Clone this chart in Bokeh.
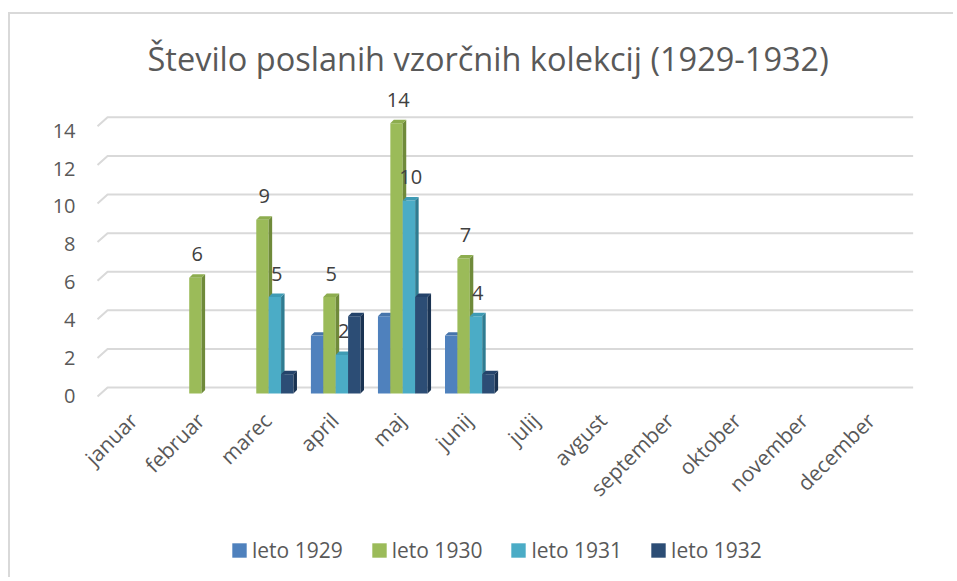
import math
from bokeh.plotting import figure
from bokeh.models import (ColumnDataSource, Range1d, LinearAxis, FixedTicker,
                          Legend, LegendItem)
from bokeh.embed import file_html
from bokeh.resources import INLINE
from bokeh.core.properties import value

# ---------------- data ----------------
title_text = "Število poslanih vzorčnih kolekcij (1929-1932)"
months = ["januar", "februar", "marec", "april", "maj", "junij", "julij",
          "avgust", "september", "oktober", "november", "december"]
series_names = ["leto 1929", "leto 1930", "leto 1931", "leto 1932"]
leto_1929 = [None, None, None, 3, 4, 3, None, None, None, None, None, None]
leto_1930 = [None, 6, 9, 5, 14, 7, None, None, None, None, None, None]
leto_1931 = [None, None, 5, 2, 10, 4, None, None, None, None, None, None]
leto_1932 = [None, None, 1, 4, 5, 1, None, None, None, None, None, None]
series_values = [leto_1929, leto_1930, leto_1931, leto_1932]
series_labelled = [False, True, True, False]
y_ticks = [0, 2, 4, 6, 8, 10, 12, 14]

# ---------------- styles ----------------
front_colors = ["#4F81BD", "#9BBB59", "#4BACC6", "#2C4D75"]
side_colors = ["#3A6190", "#6F8A3A", "#2F7C91", "#1A3352"]
top_colors = ["#4674AB", "#8DAD4F", "#3F9BB4", "#24436A"]
offsets = [-0.26, -0.075, 0.11, 0.295]
BAR_W = 0.185
DX, DY = 0.052, 0.18          # bar depth (data units)
G_X0, G_DX, G_X1 = -0.535, 0.15, 11.63
G_FRONT, G_BACK = -0.155, 0.31
XAXIS_AT = -0.62
FONT = "Open Sans"
TXT = "#595959"
GRID = "#D9D9D9"

p = figure(width=945, height=565,
           x_range=Range1d(-0.789, 11.68), y_range=Range1d(-9.43, 15.96),
           output_backend="svg", toolbar_location=None,
           y_axis_location=None,
           min_border_left=70, min_border_right=39,
           min_border_top=71, min_border_bottom=4)
p.margin = (12, 0, 0, 8)
p.styles = {"border-left": "2px solid #D9D9D9", "border-top": "2px solid #D9D9D9"}
p.outline_line_color = None
p.xgrid.visible = False
p.ygrid.visible = False
p.background_fill_color = "white"
p.border_fill_color = "white"

# title
p.title.text = title_text
p.title.text_font = FONT
p.title.text_font_size = "32.5px"
p.title.text_font_style = "normal"
p.title.text_color = TXT
p.title.align = "left"
p.title.offset = 67
p.title.standoff = 10

# gridlines (back wall with floor diagonal)
gxs = [[G_X0, G_X0 + G_DX, G_X1] for v in y_ticks]
gys = [[v + G_FRONT, v + G_BACK, v + G_BACK] for v in y_ticks]
p.multi_line(xs=gxs, ys=gys, line_color=GRID, line_width=2)

# y axis on its own range (labels sit on the front edge)
p.extra_y_ranges = {"ax": Range1d(-9.467, 16.38)}
yax = LinearAxis(y_range_name="ax", ticker=FixedTicker(ticks=y_ticks))
yax.axis_line_color = None
yax.major_tick_line_color = None
yax.minor_tick_line_color = None
yax.major_tick_out = 0
yax.major_label_text_font = FONT
yax.major_label_text_font_size = "20px"
yax.major_label_text_color = TXT
yax.major_label_standoff = 5
p.add_layout(yax, "left")

# x axis (fixed inside the frame so the legend can sit below it)
xax = p.xaxis[0]
xax.fixed_location = XAXIS_AT
xax.ticker = FixedTicker(ticks=list(range(len(months))))
xax.major_label_overrides = {i: m for i, m in enumerate(months)}
xax.major_label_orientation = math.pi / 4
xax.axis_line_color = None
xax.major_tick_line_color = None
xax.minor_tick_line_color = None
xax.major_tick_out = 0
xax.major_label_text_font = FONT
xax.major_label_text_font_size = "21px"
xax.major_label_text_color = TXT
xax.major_label_standoff = 11

legend_items = []
for k, vals in enumerate(series_values):
    xs_c, tops = [], []
    for i, v in enumerate(vals):
        if v is None:
            continue
        xs_c.append(i + offsets[k])
        tops.append(v)
    x0 = [c - BAR_W / 2 for c in xs_c]
    x1 = [c + BAR_W / 2 for c in xs_c]
    src = ColumnDataSource(dict(x=xs_c, top=tops))
    r = p.vbar(x="x", top="top", bottom=0, width=BAR_W, source=src,
               fill_color=front_colors[k], line_color=None)
    side_xs = [[a, a, a + DX, a + DX] for a in x1]
    side_ys = [[0, t, t + DY, DY] for t in tops]
    p.patches(xs=side_xs, ys=side_ys, fill_color=side_colors[k], line_color=None)
    top_xs = [[a, b, b + DX, a + DX] for a, b in zip(x0, x1)]
    top_ys = [[t, t, t + DY, t + DY] for t in tops]
    p.patches(xs=top_xs, ys=top_ys, fill_color=top_colors[k], line_color=None)
    legend_items.append(LegendItem(label=series_names[k], renderers=[r]))

# data labels (drawn last so they are on top)
for k, vals in enumerate(series_values):
    if not series_labelled[k]:
        continue
    lx, ly, lt = [], [], []
    for i, v in enumerate(vals):
        if v is None:
            continue
        lx.append(i + offsets[k] + DX / 2)
        ly.append(v + DY)
        lt.append(str(v))
    p.text(x=lx, y=ly, text=lt, y_offset=-20, text_align="center",
           text_baseline="middle", text_font=value(FONT),
           text_font_size="20px", text_color="#404040")

legend = Legend(items=legend_items, location=(150, 11), orientation="horizontal",
                glyph_width=18, glyph_height=18, label_standoff=4, spacing=27,
                padding=0, margin=0, border_line_color=None,
                background_fill_alpha=0, label_text_font=FONT,
                label_text_font_size="21px", label_text_color=TXT)
p.add_layout(legend)

open("out.html", "w").write(file_html(p, INLINE))
